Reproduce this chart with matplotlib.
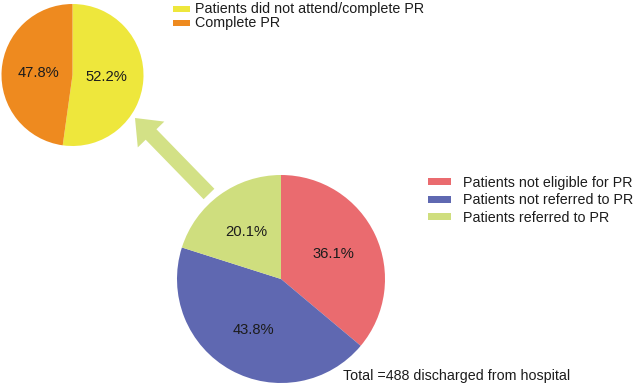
import matplotlib
matplotlib.use("Agg")
import matplotlib.pyplot as plt
from matplotlib.patches import FancyArrow, Rectangle

plt.rcParams["font.family"] = ["Liberation Sans", "DejaVu Sans"]

# data
main_labels = ["Patients not eligible for PR", "Patients not referred to PR",
               "Patients referred to PR"]
main_values = [36.1, 43.8, 20.1]
main_colors = ["#EA6B6F", "#5F68B1", "#CFDE7E"]

sub_labels = ["Patients did not attend/complete PR", "Complete PR"]
sub_values = [52.2, 47.8]
sub_colors = ["#EEE73C", "#EE8A1F"]

total_note = "Total =488 discharged from hospital"

W, H = 635, 384
fig = plt.figure(figsize=(W / 100, H / 100), dpi=100)
ax = fig.add_axes([0, 0, 1, 1])

fs = 10.3      # legend / note text
fs_pct = 10.6  # percentages inside the pies

# big pie (referral status)
ax.pie(main_values, colors=main_colors, startangle=90, counterclock=False,
       center=(281, H - 279), radius=104, autopct="%.1f%%", pctdistance=0.56,
       wedgeprops=dict(linewidth=0), textprops=dict(fontsize=fs_pct, color="#1c1c1c"))

# small pie (those referred)
ax.pie(sub_values, colors=sub_colors, startangle=90, counterclock=False,
       center=(72.5, H - 75), radius=71, autopct="%.1f%%", pctdistance=0.48,
       wedgeprops=dict(linewidth=0), textprops=dict(fontsize=fs_pct, color="#1c1c1c"))

# arrow from the "referred" slice to the small pie
ax.add_patch(FancyArrow(209, H - 194, 135 - 209, 194 - 118, width=15,
                        head_width=37, head_length=23, length_includes_head=True,
                        color="#D3E186", linewidth=0))

# legend for small pie
for i, (lab, col) in enumerate(zip(sub_labels, sub_colors)):
    yb = H - (13 + i * 14.5)
    ax.add_patch(Rectangle((173, yb + 1.5), 17, 6, color=col, linewidth=0))
    ax.text(195, yb, lab, fontsize=fs, va="baseline", ha="left", color="#1c1c1c")

# legend for big pie
for i, (lab, col) in enumerate(zip(main_labels, main_colors)):
    yb = H - (187 + i * 17.5)
    ax.add_patch(Rectangle((428, yb + 2), 23, 7, color=col, linewidth=0))
    ax.text(463, yb, lab, fontsize=fs, va="baseline", ha="left", color="#1c1c1c")

ax.text(343, H - 380, total_note, fontsize=fs, va="baseline", ha="left",
        color="#1c1c1c")

ax.set_xlim(0, W)
ax.set_ylim(0, H)
ax.set_aspect("equal")
ax.axis("off")

fig.savefig("out.png", dpi=100)
